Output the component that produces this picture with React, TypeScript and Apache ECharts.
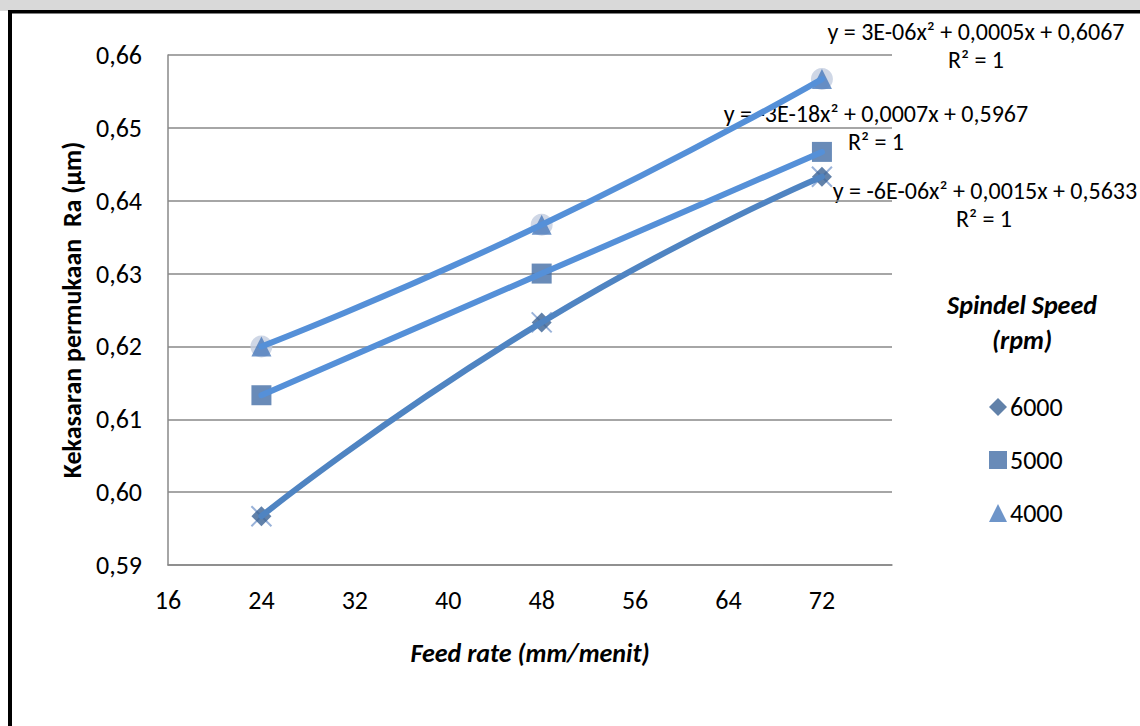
import React, { useEffect, useRef } from "react";
import * as echarts from "echarts";

const feedRates = [24, 48, 72];
const ra6000 = [0.5967, 0.6233, 0.6433];
const ra5000 = [0.6133, 0.63, 0.6467];
const ra4000 = [0.62, 0.6367, 0.6567];
const seriesNames = ["6000", "5000", "4000"];
const eqTexts = [
  "y = 3E-06x² + 0,0005x + 0,6067",
  "y = -3E-18x² + 0,0007x + 0,5967",
  "y = -6E-06x² + 0,0015x + 0,5633",
];
const r2Text = "R² = 1";

const FONT = "Carlito, Lato, 'Open Sans', sans-serif";

function pairs(ys: number[]) {
  return feedRates.map((x, i) => [x, ys[i]]);
}

export default function App() {
  const ref = useRef<HTMLDivElement>(null);
  useEffect(() => {
    if (!ref.current) return;
    const chart = echarts.init(ref.current, undefined, { renderer: "svg" });
    const cross = "path://M0,0L10,10M10,0L0,10";
    const trendStyle = (color: string) => ({
      type: "line",
      smooth: 0.55,
      showSymbol: false,
      symbol: "none",
      silent: true,
      z: 5,
      lineStyle: { color, width: 6, cap: "round" },
    });
    const eq = (text: string, x: number, y: number) => ({
      type: "text",
      x,
      y,
      style: { text, font: `24px ${FONT}`, fill: "#000", textAlign: "center", textVerticalAlign: "middle" },
    });
    chart.setOption({
      animation: false,
      backgroundColor: "#ffffff",
      textStyle: { fontFamily: FONT },
      grid: { left: 168, right: 248, top: 55, bottom: 161 },
      xAxis: {
        type: "value",
        min: 16,
        max: 78,
        interval: 8,
        name: "Feed rate (mm/menit)",
        nameLocation: "middle",
        nameGap: 75,
        nameTextStyle: {
          fontFamily: FONT,
          fontSize: 26,
          fontWeight: "bold",
          fontStyle: "italic",
          color: "#000",
        },
        axisLine: { show: true, lineStyle: { color: "#888888", width: 1.5 } },
        axisTick: { show: false },
        splitLine: { show: false },
        axisLabel: {
          fontFamily: FONT,
          fontSize: 26,
          color: "#000",
          margin: 22,
          showMaxLabel: false,
          formatter: (v: number) => (v % 8 === 0 ? String(v) : ""),
        },
      },
      yAxis: {
        type: "value",
        min: 0.59,
        max: 0.66,
        interval: 0.01,
        name: "Kekasaran permukaan  Ra (µm)",
        nameLocation: "middle",
        nameGap: 80,
        nameTextStyle: {
          fontFamily: FONT,
          fontSize: 26,
          fontWeight: "bold",
          color: "#000",
        },
        axisLine: { show: true, lineStyle: { color: "#888888", width: 1.5 } },
        axisTick: { show: false },
        splitLine: { show: true, lineStyle: { color: "#888888", width: 1.5 } },
        axisLabel: {
          fontFamily: FONT,
          fontSize: 26,
          color: "#000",
          margin: 26,
          formatter: (v: number) => v.toFixed(2).replace(".", ","),
        },
      },
      legend: {
        orient: "vertical",
        left: 984,
        top: 389,
        itemGap: 27,
        itemWidth: 18,
        itemHeight: 18,
        textStyle: { fontFamily: FONT, fontSize: 26, color: "#000", padding: [0, 0, 0, -2] },
        data: [
          { name: seriesNames[0], icon: "diamond" },
          { name: seriesNames[1], icon: "rect" },
          { name: seriesNames[2], icon: "triangle" },
        ],
      },
      series: [
        {
          name: "x6000",
          type: "scatter",
          symbol: cross,
          symbolSize: 20,
          z: 2,
          itemStyle: { color: "none", borderColor: "#7f9fd0", borderWidth: 2 },
          data: pairs(ra6000),
        },
        {
          name: "c4000",
          type: "scatter",
          symbol: "circle",
          symbolSize: 22,
          z: 2,
          itemStyle: { color: "#c3cde0" },
          data: pairs(ra4000),
        },
        {
          name: seriesNames[0],
          type: "scatter",
          symbol: "diamond",
          symbolSize: 20,
          z: 3,
          itemStyle: { color: "#3a6193" },
          data: pairs(ra6000),
        },
        {
          name: seriesNames[1],
          type: "scatter",
          symbol: "rect",
          symbolSize: 20,
          z: 3,
          itemStyle: { color: "#436ea6" },
          data: pairs(ra5000),
        },
        {
          name: seriesNames[2],
          type: "scatter",
          symbol: "triangle",
          symbolSize: 20,
          z: 3,
          itemStyle: { color: "#4a7bbb" },
          data: pairs(ra4000),
        },
        { name: "t6000", ...trendStyle("#4f84c2"), data: pairs(ra6000) },
        { name: "t5000", ...trendStyle("#5590d8"), data: pairs(ra5000) },
        { name: "t4000", ...trendStyle("#5590d8"), data: pairs(ra4000) },
      ],
      graphic: [
        { type: "rect", shape: { x: 0, y: 0, width: 1140, height: 11 }, style: { fill: "#d9d9d9" }, silent: true },
        { type: "rect", shape: { x: 8, y: 10, width: 1132, height: 3.5 }, style: { fill: "#000" }, silent: true },
        { type: "rect", shape: { x: 8, y: 10, width: 4, height: 716 }, style: { fill: "#000" }, silent: true },
        eq(eqTexts[0], 976, 31),
        eq(r2Text, 976, 59),
        eq(eqTexts[1], 876, 113),
        eq(r2Text, 876, 141),
        eq(eqTexts[2], 985, 190),
        eq(r2Text, 984, 218),
        {
          type: "text",
          x: 1022,
          y: 305,
          style: { text: "Spindel Speed", font: `italic bold 26px ${FONT}`, fill: "#000", textAlign: "center", textVerticalAlign: "middle" },
        },
        {
          type: "text",
          x: 1022,
          y: 340,
          style: { text: "(rpm)", font: `italic bold 26px ${FONT}`, fill: "#000", textAlign: "center", textVerticalAlign: "middle" },
        },
      ],
    });
    return () => chart.dispose();
  }, []);
  return (
    <div
      ref={ref}
      style={{ position: "fixed", left: 0, top: 0, width: 1140, height: 726, background: "#fff" }}
    />
  );
}
